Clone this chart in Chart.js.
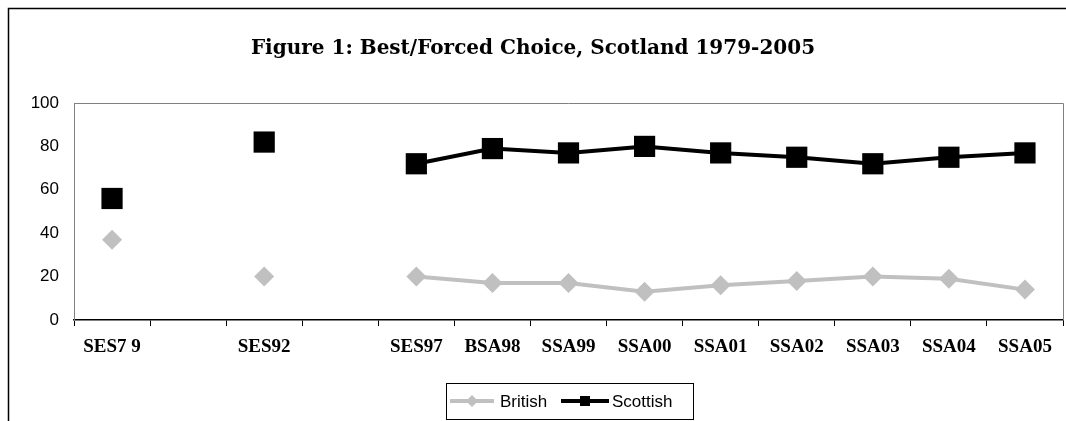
<!DOCTYPE html>
<html>
<head>
<meta charset="utf-8">
<script src="https://cdn.jsdelivr.net/npm/chart.js@4.4.1/dist/chart.umd.min.js"></script>
<style>
  html, body { margin: 0; padding: 0; background: #fff; }
  #wrap { width: 1066px; height: 421px; }
</style>
</head>
<body>
<div id="wrap"><canvas id="chart" width="1066" height="421"></canvas></div>
<script>
// survey labels, blanks are years with no survey
const surveys = ['SES79', '', 'SES92', '', 'SES97', 'BSA98', 'SSA99', 'SSA00', 'SSA01', 'SSA02', 'SSA03', 'SSA04', 'SSA05'];
const tickText = ['SES7 9', '', 'SES92', '', 'SES97', 'BSA98', 'SSA99', 'SSA00', 'SSA01', 'SSA02', 'SSA03', 'SSA04', 'SSA05'];
const british = [37, null, 20, null, 20, 17, 17, 13, 16, 18, 20, 19, 14];
const scottish = [56, null, 82, null, 72, 79, 77, 80, 77, 75, 72, 75, 77];
const yTicks = [0, 20, 40, 60, 80, 100];

const titleText = 'Figure 1: Best/Forced Choice, Scotland 1979-2005';
const GREY = '#c0c0c0';

// frame, plot box top/right edges, title and the legend with line samples
const decor = {
  id: 'decor',
  afterDraw(chart) {
    const ctx = chart.ctx;
    const a = chart.chartArea;
    ctx.save();
    // outer frame (only left and top show in the picture)
    ctx.strokeStyle = '#000';
    ctx.lineWidth = 1.5;
    ctx.beginPath();
    ctx.moveTo(8.5, 430);
    ctx.lineTo(8.5, 8.5);
    ctx.lineTo(1070, 8.5);
    ctx.stroke();

    // plot box top + right
    ctx.strokeStyle = '#808080';
    ctx.lineWidth = 1;
    ctx.beginPath();
    ctx.moveTo(a.left, Math.round(a.top) + 0.5);
    ctx.lineTo(Math.round(a.right) + 0.5, Math.round(a.top) + 0.5);
    ctx.lineTo(Math.round(a.right) + 0.5, a.bottom);
    ctx.stroke();

    // title
    ctx.fillStyle = '#000';
    ctx.font = 'bold 20px "DejaVu Serif"';
    ctx.textAlign = 'center';
    ctx.textBaseline = 'middle';
    ctx.fillText(titleText, 533, 49);

    // legend
    ctx.strokeStyle = '#000';
    ctx.lineWidth = 1;
    ctx.strokeRect(446.5, 383.5, 247, 36);
    const ly = 401;
    ctx.lineWidth = 4;
    ctx.strokeStyle = GREY;
    ctx.beginPath(); ctx.moveTo(450, ly); ctx.lineTo(494, ly); ctx.stroke();
    ctx.fillStyle = GREY;
    ctx.beginPath();
    ctx.moveTo(472, ly - 6); ctx.lineTo(478, ly); ctx.lineTo(472, ly + 6); ctx.lineTo(466, ly);
    ctx.closePath(); ctx.fill();
    ctx.strokeStyle = '#000';
    ctx.beginPath(); ctx.moveTo(561, ly); ctx.lineTo(609, ly); ctx.stroke();
    ctx.fillStyle = '#000';
    ctx.fillRect(580, ly - 5, 10, 10);
    ctx.font = '17px "Liberation Sans", Arial';
    ctx.textAlign = 'left';
    ctx.fillText('British', 500, ly + 1);
    ctx.fillText('Scottish', 612, ly + 1);
    ctx.restore();
  }
};

new Chart(document.getElementById('chart'), {
  type: 'line',
  data: {
    labels: surveys,
    datasets: [{
      label: 'British',
      data: british,
      borderColor: GREY,
      backgroundColor: GREY,
      borderWidth: 4,
      pointStyle: 'rectRot',
      pointRadius: 10,
      pointBorderWidth: 0,
      spanGaps: false,
      tension: 0
    }, {
      label: 'Scottish',
      data: scottish,
      borderColor: '#000',
      backgroundColor: '#000',
      borderWidth: 4,
      pointStyle: 'rect',
      pointRadius: 15,
      pointBorderWidth: 0,
      spanGaps: false,
      tension: 0
    }]
  },
  options: {
    responsive: false,
    animation: false,
    clip: false,
    // autoPadding would reserve room for the big markers and shrink the plot
    layout: { autoPadding: false, padding: { left: 0, right: 3, top: 103, bottom: 0 } },
    plugins: {
      legend: { display: false },
      title: { display: false },
      tooltip: { enabled: false }
    },
    scales: {
      x: {
        offset: true,
        grid: {
          offset: true,
          drawOnChartArea: false,
          drawTicks: true,
          tickLength: 6,
          color: '#000'
        },
        border: { color: '#000', width: 1.5 },
        ticks: {
          autoSkip: false,
          maxRotation: 0,
          padding: 10,
          color: '#000',
          font: { family: '"Liberation Serif"', size: 19, weight: 'bold' },
          callback: (v, i) => tickText[i]
        },
        afterFit(s) {
          s.height = 101;
          s.paddingLeft = 0;
          s.paddingRight = 0;
        }
      },
      y: {
        min: 0,
        max: 100,
        afterBuildTicks(s) { s.ticks = yTicks.map(v => ({ value: v })); },
        grid: { display: false, drawTicks: false },
        border: { color: '#808080', width: 1 },
        ticks: {
          padding: 15,
          color: '#000',
          font: { family: '"Liberation Sans", Arial', size: 17 }
        },
        afterFit(s) { s.width = 74; }
      }
    }
  },
  plugins: [decor]
});
</script>
</body>
</html>
